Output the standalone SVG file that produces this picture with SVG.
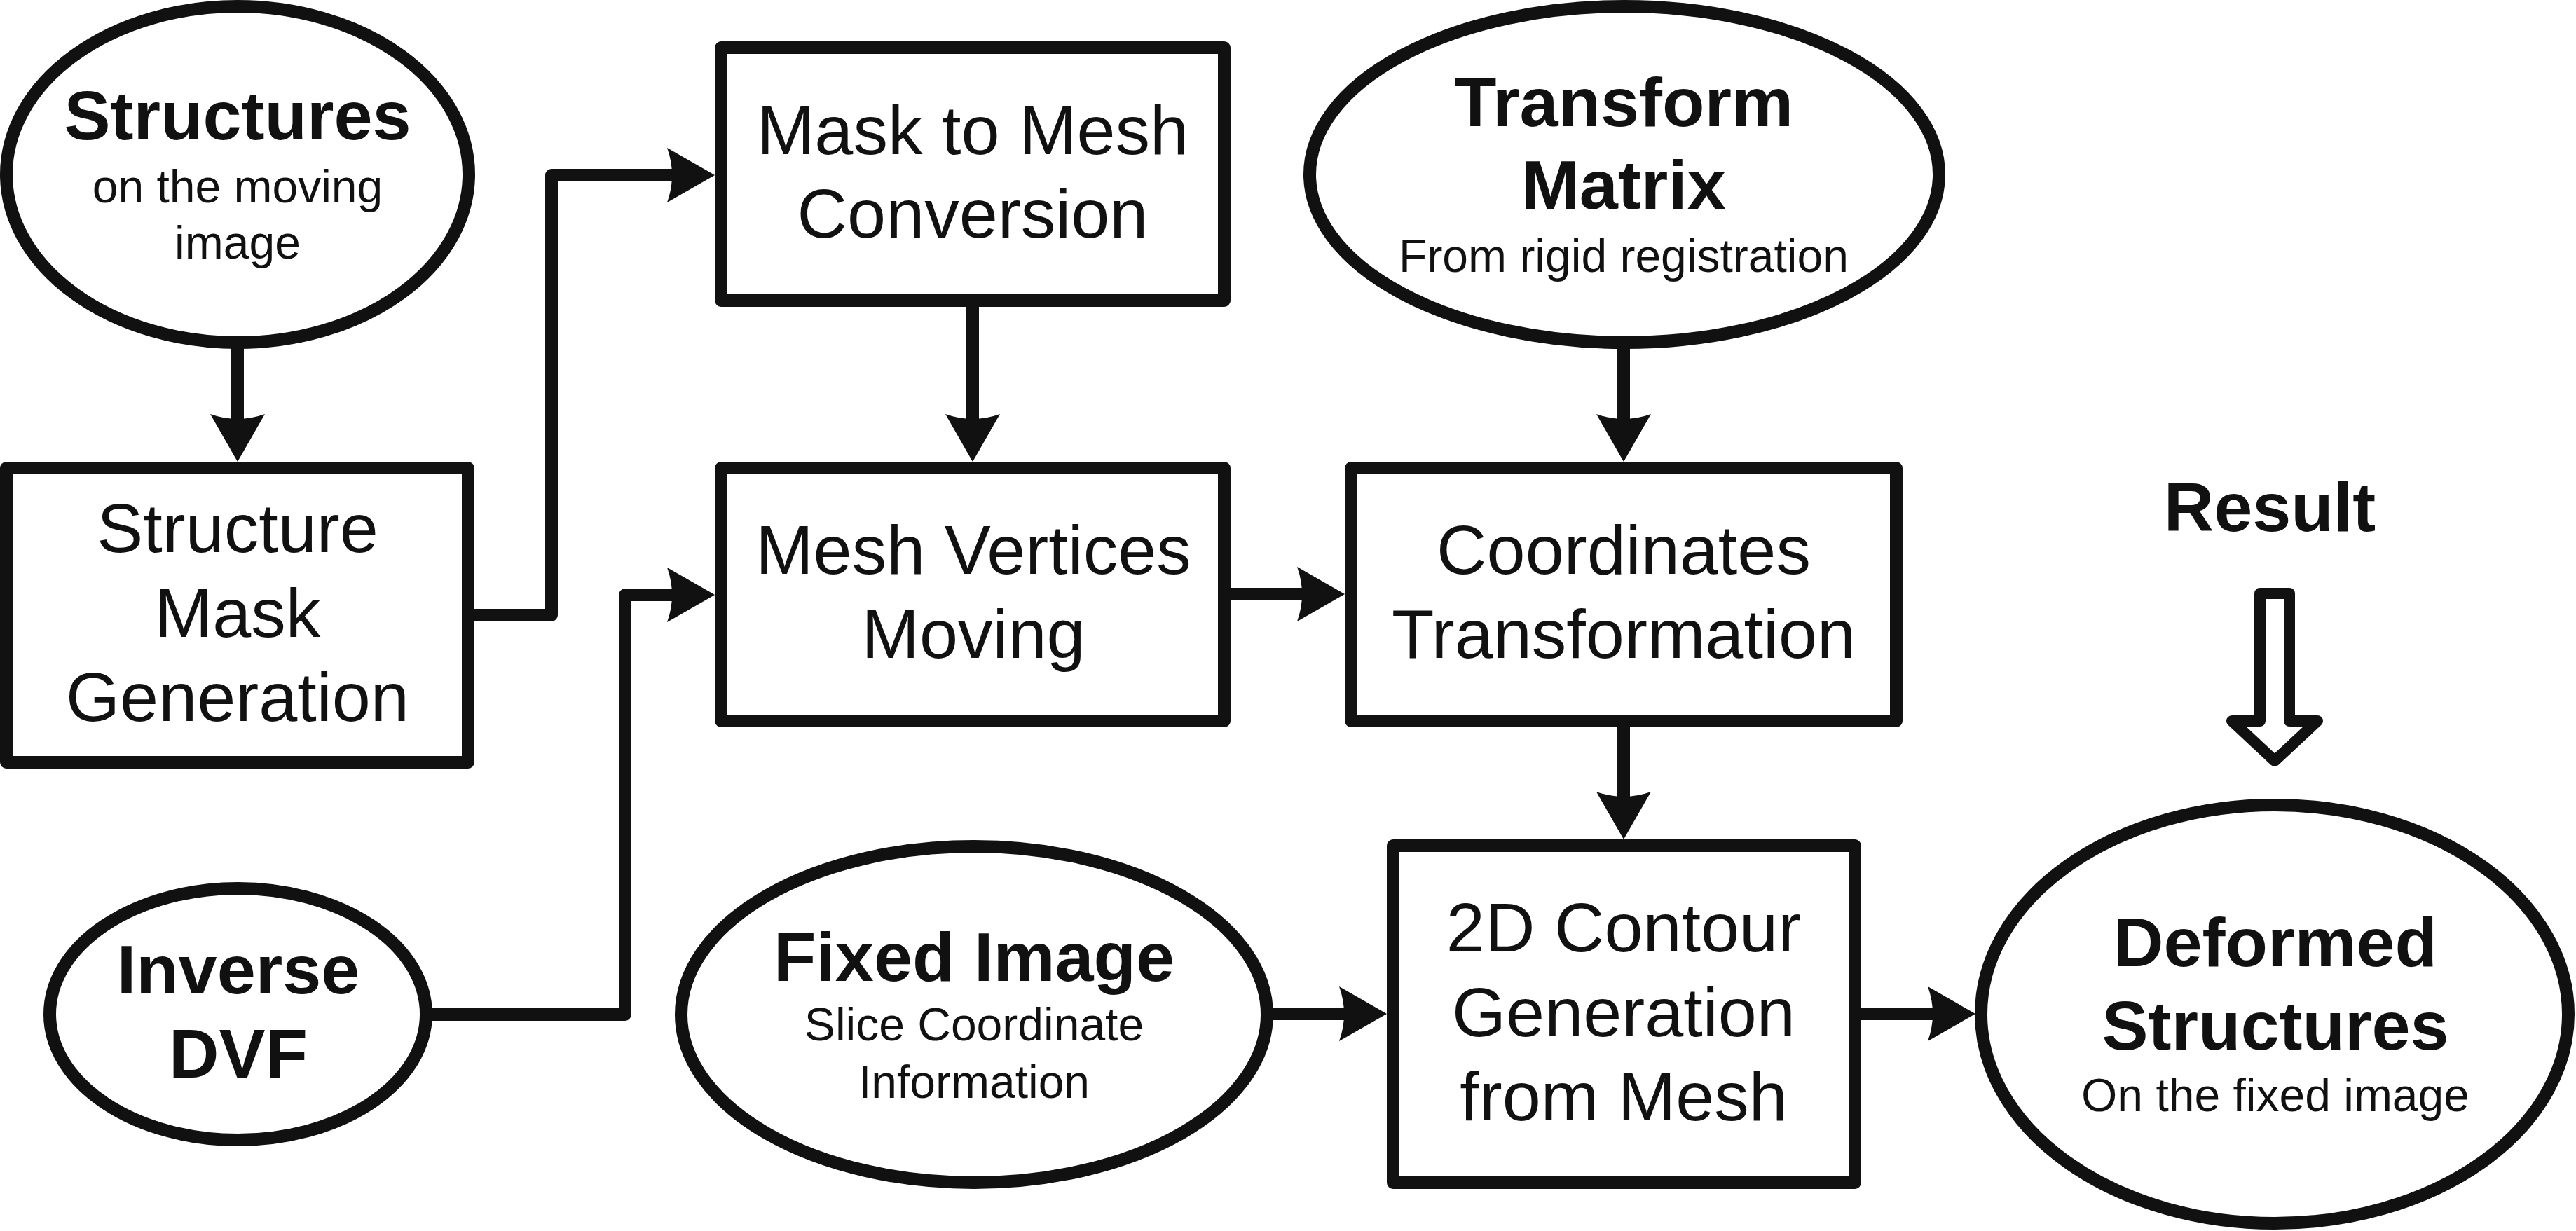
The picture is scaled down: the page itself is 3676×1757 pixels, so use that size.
<svg xmlns="http://www.w3.org/2000/svg" width="3676" height="1757" viewBox="0 0 3676 1757">
<style>
.shape{fill:#fff;stroke:#111;stroke-width:18;stroke-linejoin:round}
.conn{fill:none;stroke:#111;stroke-width:18;stroke-linejoin:round}
text{font-family:"Liberation Sans",Arial,sans-serif;fill:#111;text-anchor:middle}
.t{font-size:99px}
.b{font-size:99px;font-weight:bold}
.s{font-size:66px}
</style>
<defs>
<marker id="ah" markerUnits="userSpaceOnUse" orient="auto" viewBox="-14 -42 76 84" refX="0" refY="0" markerWidth="76" markerHeight="84">
<path d="M58,0 L-10,-39 Q4,0 -10,39 Z" fill="#111"/>
</marker>
</defs>
<rect width="3676" height="1757" fill="#fff"/>
<g id="connectors">
<path class="conn" d="M339,489 V601" marker-end="url(#ah)"/>
<path class="conn" d="M1388,438 V601" marker-end="url(#ah)"/>
<path class="conn" d="M2317,489 V601" marker-end="url(#ah)"/>
<path class="conn" d="M2317,1038 V1140" marker-end="url(#ah)"/>
<path class="conn" d="M1756,848 H1861" marker-end="url(#ah)"/>
<path class="conn" d="M1808,1447 H1921" marker-end="url(#ah)"/>
<path class="conn" d="M2656,1447 H2761" marker-end="url(#ah)"/>
<path class="conn" d="M677,878 H787 V250 H962" marker-end="url(#ah)"/>
<path class="conn" d="M617,1448 H892 V849 H962" marker-end="url(#ah)"/>
</g>
<g id="structures">
<ellipse class="shape" cx="339" cy="249" rx="330" ry="240"/>
<text class="b" x="339" y="199">Structures</text>
<text class="s" x="339" y="289">on the moving</text>
<text class="s" x="339" y="369">image</text>
</g>
<g id="structure-mask">
<rect class="shape" x="9" y="668" width="659" height="420"/>
<text class="t" x="339" y="788">Structure</text>
<text class="t" x="339" y="909">Mask</text>
<text class="t" x="339" y="1029">Generation</text>
</g>
<g id="inverse-dvf">
<ellipse class="shape" cx="339.5" cy="1447.5" rx="268.5" ry="179.5"/>
<text class="b" x="340" y="1418">Inverse</text>
<text class="b" x="340" y="1538">DVF</text>
</g>
<g id="mask-to-mesh">
<rect class="shape" x="1029" y="68" width="718" height="361"/>
<text class="t" x="1388" y="220">Mask to Mesh</text>
<text class="t" x="1388" y="339">Conversion</text>
</g>
<g id="mesh-vertices">
<rect class="shape" x="1029" y="668" width="718" height="361"/>
<text class="t" x="1389" y="819">Mesh Vertices</text>
<text class="t" x="1389" y="939">Moving</text>
</g>
<g id="transform-matrix">
<ellipse class="shape" cx="2318" cy="249" rx="449" ry="240"/>
<text class="b" x="2317" y="180">Transform</text>
<text class="b" x="2317" y="298">Matrix</text>
<text class="s" x="2317" y="388">From rigid registration</text>
</g>
<g id="coordinates-transformation">
<rect class="shape" x="1928" y="668" width="778" height="361"/>
<text class="t" x="2317" y="819">Coordinates</text>
<text class="t" x="2317" y="939">Transformation</text>
</g>
<g id="fixed-image">
<ellipse class="shape" cx="1390" cy="1448" rx="418" ry="240"/>
<text class="b" x="1390" y="1400">Fixed Image</text>
<text class="s" x="1390" y="1485">Slice Coordinate</text>
<text class="s" x="1390" y="1567">Information</text>
</g>
<g id="contour-generation">
<rect class="shape" x="1988" y="1207" width="659" height="481"/>
<text class="t" x="2317" y="1358">2D Contour</text>
<text class="t" x="2317" y="1479">Generation</text>
<text class="t" x="2317" y="1599">from Mesh</text>
</g>
<g id="result">
<text class="b" x="3239" y="758">Result</text>
<path d="M3225,847 H3267 V1029 H3307 L3246,1086 L3185,1029 H3225 Z" fill="#fff" stroke="#111" stroke-width="16" stroke-linejoin="round"/>
</g>
<g id="deformed-structures">
<ellipse class="shape" cx="3246" cy="1447.5" rx="419" ry="298.5"/>
<text class="b" x="3247" y="1379">Deformed</text>
<text class="b" x="3247" y="1498">Structures</text>
<text class="s" x="3247" y="1586">On the fixed image</text>
</g>
</svg>
